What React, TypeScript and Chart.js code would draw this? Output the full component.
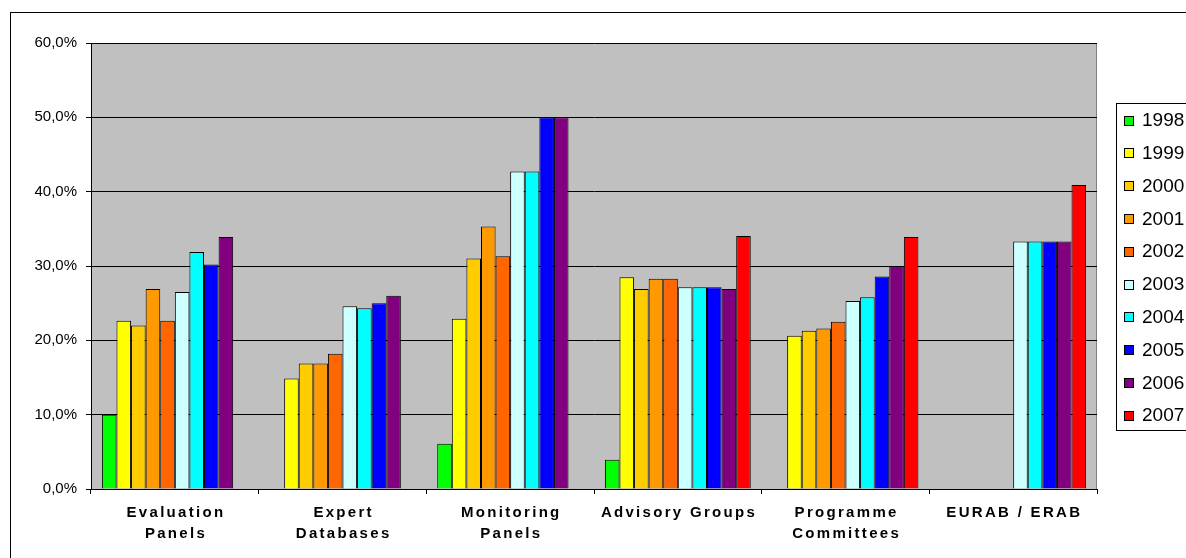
import React, { useEffect, useRef } from 'react';
import { Chart, registerables } from 'chart.js';

Chart.register(...registerables);

const categories: string[][] = [
  ['Evaluation', 'Panels'],
  ['Expert', 'Databases'],
  ['Monitoring', 'Panels'],
  ['Advisory Groups'],
  ['Programme', 'Committees'],
  ['EURAB / ERAB'],
];

const years = ['1998', '1999', '2000', '2001', '2002', '2003', '2004', '2005', '2006', '2007'];
const colors = ['#00FF00', '#FFFF00', '#FFCC00', '#FF9900', '#FF6600', '#CCFFFF', '#00FFFF', '#0000FF', '#800080', '#FF0000'];

const v1998 = [10.0, null, 6.1, 3.95, null, null];
const v1999 = [22.65, 14.85, 22.9, 28.5, 20.6, null];
const v2000 = [22.0, 16.9, 31.0, 26.9, 21.3, null];
const v2001 = [26.9, 16.9, 35.3, 28.3, 21.6, null];
const v2002 = [22.65, 18.2, 31.3, 28.3, 22.5, null];
const v2003 = [26.5, 24.6, 42.7, 27.15, 25.3, 33.3];
const v2004 = [31.9, 24.3, 42.7, 27.15, 25.8, 33.3];
const v2005 = [30.2, 25.0, 50.0, 27.15, 28.6, 33.3];
const v2006 = [33.9, 26.0, 50.0, 26.9, 30.0, 33.3];
const v2007 = [null, null, null, 34.05, 33.9, 40.9];
const seriesValues = [v1998, v1999, v2000, v2001, v2002, v2003, v2004, v2005, v2006, v2007];

const yMin = 0;
const yMax = 60;
const yStep = 10;

const FONT = '"Liberation Sans", Arial, sans-serif';

const framePlugin = {
  id: 'frame',
  beforeDraw(chart: any) {
    const { ctx, chartArea, width, height } = chart;
    ctx.save();
    ctx.fillStyle = '#FFFFFF';
    ctx.fillRect(0, 0, width, height);
    ctx.strokeStyle = '#000000';
    ctx.lineWidth = 1;
    ctx.strokeRect(10.5, 12.5, width + 20, height + 20);
    ctx.fillStyle = '#C0C0C0';
    ctx.fillRect(chartArea.left, chartArea.top, chartArea.right - chartArea.left, chartArea.bottom - chartArea.top);
    ctx.strokeStyle = '#808080';
    ctx.beginPath();
    ctx.moveTo(Math.round(chartArea.right) - 0.5, chartArea.top);
    ctx.lineTo(Math.round(chartArea.right) - 0.5, chartArea.bottom);
    ctx.stroke();
    ctx.restore();
  },
  afterDraw(chart: any) {
    const { ctx, chartArea } = chart;
    const xs = chart.scales.x;
    ctx.save();
    // category labels
    ctx.fillStyle = '#000000';
    ctx.font = 'bold 15px ' + FONT;
    const spacing = 2.3;
    try { (ctx as any).letterSpacing = spacing + 'px'; } catch (e) {}
    ctx.textAlign = 'center';
    ctx.textBaseline = 'middle';
    categories.forEach((lines, i) => {
      const x = xs.getPixelForValue(i) + spacing / 2;
      lines.forEach((t, j) => {
        ctx.fillText(t, x, chartArea.bottom + 24 + j * 20.5);
      });
    });
    try { (ctx as any).letterSpacing = '0px'; } catch (e) {}
    // legend
    ctx.strokeStyle = '#000000';
    ctx.lineWidth = 1;
    ctx.strokeRect(1116.5, 103.5, 200, 327);
    ctx.font = '19px ' + FONT;
    ctx.textAlign = 'left';
    ctx.textBaseline = 'middle';
    chart.data.datasets.forEach((ds: any, i: number) => {
      const cy = 120 + i * 32.8;
      const by = Math.round(cy - 4.5) + 0.5;
      ctx.fillStyle = ds.backgroundColor;
      ctx.fillRect(1124.5, by, 9, 9);
      ctx.strokeStyle = '#000000';
      ctx.strokeRect(1124.5, by, 9, 9);
      ctx.fillStyle = '#000000';
      ctx.fillText(ds.label, 1142, cy + 1);
    });
    ctx.restore();
  },
};

export default function App() {
  const canvasRef = useRef<HTMLCanvasElement | null>(null);

  useEffect(() => {
    if (!canvasRef.current) return;
    const chart = new Chart(canvasRef.current, {
      type: 'bar',
      data: {
        labels: categories.map((l) => l.join(' ')),
        datasets: years.map((y, i) => ({
          label: y,
          data: seriesValues[i] as any,
          backgroundColor: colors[i],
          borderColor: '#000000',
          borderWidth: 1,
          borderSkipped: 'bottom' as any,
          categoryPercentage: 0.87,
          barPercentage: 1,
        })),
      },
      options: {
        animation: false,
        responsive: true,
        maintainAspectRatio: false,
        devicePixelRatio: 1,
        layout: { padding: { left: 0, top: 43, right: 89, bottom: 0 } },
        plugins: {
          legend: { display: false },
          tooltip: { enabled: false },
        },
        scales: {
          x: {
            offset: true,
            grid: {
              offset: true,
              drawOnChartArea: false,
              drawTicks: true,
              tickLength: 5,
              color: '#000000',
            },
            border: { display: true, color: '#000000', width: 1 },
            ticks: { display: false },
            afterFit(scale: any) {
              scale.height = 69;
            },
          },
          y: {
            min: yMin,
            max: yMax,
            grid: {
              color: '#000000',
              lineWidth: 1,
              drawTicks: true,
              tickLength: 5,
            },
            border: { display: true, color: '#000000', width: 1 },
            ticks: {
              stepSize: yStep,
              padding: 9,
              color: '#000000',
              font: { family: FONT, size: 15 },
              callback: (v: any) => Number(v).toFixed(1).replace('.', ',') + '%',
            },
            afterFit(scale: any) {
              scale.width = 91;
            },
          },
        },
      },
      plugins: [framePlugin],
    });
    return () => chart.destroy();
  }, []);

  return (
    <div style={{ position: 'absolute', left: 0, top: 0, width: 1186, height: 558 }}>
      <canvas ref={canvasRef} />
    </div>
  );
}
